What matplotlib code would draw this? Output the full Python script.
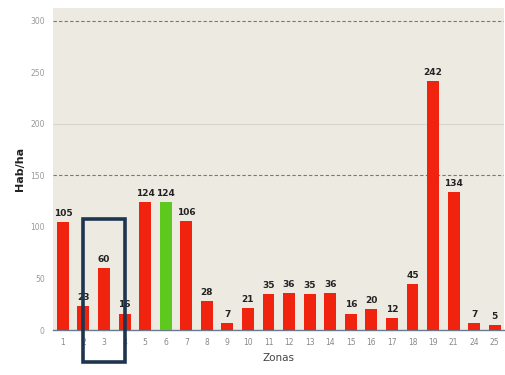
import matplotlib
matplotlib.use("Agg")
import matplotlib.pyplot as plt
from matplotlib.patches import Rectangle

zonas = ["1", "2", "3", "4", "5", "6", "7", "8", "9", "10", "11", "12", "13",
         "14", "15", "16", "17", "18", "19", "21", "24", "25"]
valores = [105, 23, 60, 16, 124, 124, 106, 28, 7, 21, 35, 36, 35, 36, 16, 20,
           12, 45, 242, 134, 7, 5]
destacado = "6"
yticks = [0, 50, 100, 150, 200, 250, 300]

red = "#F0230F"
green = "#5DC91E"
colors = [green if z == destacado else red for z in zonas]

fig = plt.figure(figsize=(5.05, 3.75), dpi=100)
fig.patch.set_facecolor("white")
ax = fig.add_axes([0.105, 0.12, 0.893, 0.86])
ax.set_facecolor("#EDEBE1")

x = list(range(len(zonas)))
bars = ax.bar(x, valores, width=0.58, color=colors, zorder=3)
for xi, v in zip(x, valores):
    ax.text(xi, v + 4, str(v), ha="center", va="bottom", fontsize=6.5,
            fontweight="bold", color="#222222", zorder=4)

ax.set_xlim(-0.48, 21.45)
ax.set_ylim(0, 313)
ax.set_xticks(x)
ax.set_xticklabels(zonas, fontsize=5.5, color="#888888")
ax.set_yticks(yticks)
ax.set_yticklabels([str(t) for t in yticks], fontsize=5.5, color="#999999")
ax.tick_params(axis="both", length=0, pad=6)

for t in (150, 300):
    ax.axhline(t, color="#777777", lw=0.8, ls=(0, (3, 2)), zorder=1)
ax.axhline(200, color="#D8D6CC", lw=0.8, zorder=1)

for s in ("top", "right", "left"):
    ax.spines[s].set_visible(False)
ax.spines["bottom"].set_color("#6A7A8A")
ax.spines["bottom"].set_linewidth(1.0)

ax.set_ylabel("Hab/ha", fontsize=8, fontweight="bold", color="#222222", labelpad=4)
ax.set_xlabel("Zonas", fontsize=7.5, color="#444444", labelpad=4)

rect = Rectangle((0.97, -31), 2.03, 139, fill=False, edgecolor="#1E3550",
                 lw=2.6, clip_on=False, zorder=5)
ax.add_patch(rect)

fig.savefig("out.png", dpi=100)
